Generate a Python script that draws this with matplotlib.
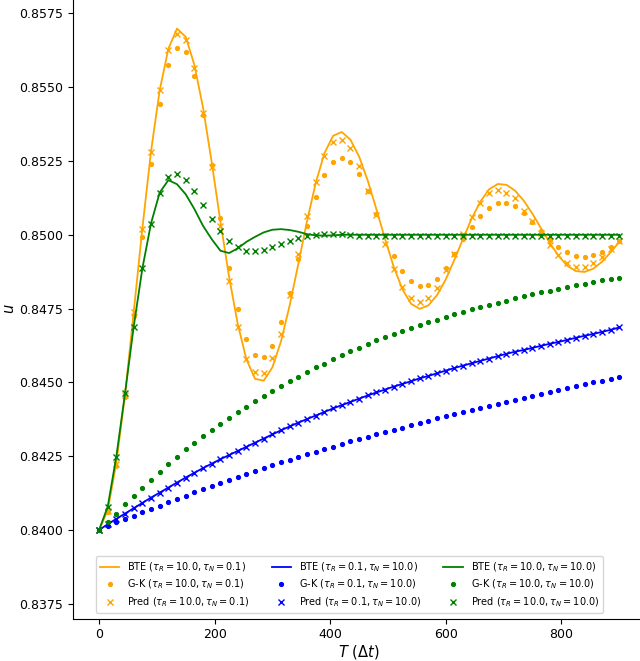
import matplotlib
matplotlib.use("Agg")
import matplotlib.pyplot as plt

# time steps (in units of dt)
time_steps = list(range(0, 901, 15))

# tau_R = 10.0, tau_N = 0.1
orange_bte = [
    0.84000, 0.84066, 0.84228, 0.84458, 0.84738, 0.85022, 0.85283, 0.85490, 0.85630, 0.85698,
    0.85670, 0.85575, 0.85430, 0.85245, 0.85045, 0.84858, 0.84698, 0.84578, 0.84512, 0.84506,
    0.84551, 0.84640, 0.84762, 0.84903, 0.85047, 0.85176, 0.85276, 0.85335, 0.85348, 0.85322,
    0.85265, 0.85183, 0.85086, 0.84985, 0.84891, 0.84815, 0.84766, 0.84749, 0.84761, 0.84796,
    0.84849, 0.84916, 0.84987, 0.85056, 0.85113, 0.85154, 0.85172, 0.85169, 0.85149, 0.85115,
    0.85071, 0.85021, 0.84972, 0.84929, 0.84895, 0.84877, 0.84874, 0.84885, 0.84908, 0.84940,
    0.84975,
]
orange_gk = [
    0.84000, 0.84062, 0.84218, 0.84450, 0.84725, 0.84991, 0.85241, 0.85443, 0.85576, 0.85633,
    0.85618, 0.85536, 0.85404, 0.85235, 0.85058, 0.84889, 0.84749, 0.84648, 0.84594, 0.84585,
    0.84625, 0.84704, 0.84802, 0.84918, 0.85030, 0.85128, 0.85204, 0.85248, 0.85261, 0.85245,
    0.85205, 0.85149, 0.85070, 0.85000, 0.84929, 0.84878, 0.84842, 0.84825, 0.84831, 0.84851,
    0.84889, 0.84935, 0.84985, 0.85025, 0.85063, 0.85090, 0.85106, 0.85106, 0.85096, 0.85073,
    0.85042, 0.85012, 0.84982, 0.84960, 0.84943, 0.84929, 0.84926, 0.84931, 0.84940, 0.84957,
    0.84980,
]
orange_pred = [
    0.84000, 0.84064, 0.84225, 0.84456, 0.84738, 0.85021, 0.85280, 0.85489, 0.85626, 0.85681,
    0.85658, 0.85563, 0.85413, 0.85231, 0.85029, 0.84845, 0.84689, 0.84580, 0.84535, 0.84533,
    0.84583, 0.84665, 0.84795, 0.84935, 0.85065, 0.85180, 0.85267, 0.85315, 0.85320, 0.85295,
    0.85233, 0.85149, 0.85066, 0.84969, 0.84884, 0.84822, 0.84785, 0.84771, 0.84785, 0.84820,
    0.84881, 0.84935, 0.85003, 0.85061, 0.85109, 0.85143, 0.85151, 0.85143, 0.85126, 0.85081,
    0.85045, 0.85005, 0.84965, 0.84932, 0.84906, 0.84892, 0.84890, 0.84903, 0.84925, 0.84953,
    0.84980,
]

# tau_R = 0.1, tau_N = 10.0
blue_bte = [
    0.84000, 0.84020, 0.84038, 0.84056, 0.84074, 0.84092, 0.84110, 0.84127, 0.84144, 0.84161,
    0.84178, 0.84194, 0.84210, 0.84225, 0.84240, 0.84254, 0.84268, 0.84282, 0.84296, 0.84310,
    0.84324, 0.84338, 0.84351, 0.84364, 0.84376, 0.84388, 0.84400, 0.84412, 0.84423, 0.84434,
    0.84445, 0.84456, 0.84466, 0.84476, 0.84486, 0.84495, 0.84504, 0.84514, 0.84522, 0.84531,
    0.84540, 0.84549, 0.84557, 0.84565, 0.84573, 0.84581, 0.84589, 0.84597, 0.84604, 0.84610,
    0.84617, 0.84624, 0.84631, 0.84637, 0.84644, 0.84651, 0.84658, 0.84664, 0.84671, 0.84678,
    0.84686,
]
blue_gk = [
    0.84000, 0.84014, 0.84026, 0.84039, 0.84048, 0.84060, 0.84071, 0.84083, 0.84094, 0.84106,
    0.84116, 0.84128, 0.84140, 0.84150, 0.84160, 0.84170, 0.84180, 0.84190, 0.84200, 0.84210,
    0.84219, 0.84229, 0.84238, 0.84247, 0.84256, 0.84265, 0.84274, 0.84283, 0.84291, 0.84300,
    0.84308, 0.84316, 0.84324, 0.84332, 0.84340, 0.84347, 0.84355, 0.84363, 0.84370, 0.84378,
    0.84385, 0.84392, 0.84399, 0.84406, 0.84413, 0.84420, 0.84427, 0.84434, 0.84441, 0.84448,
    0.84455, 0.84461, 0.84468, 0.84474, 0.84481, 0.84487, 0.84494, 0.84500, 0.84506, 0.84513,
    0.84519,
]
blue_pred = [
    0.84000, 0.84020, 0.84038, 0.84056, 0.84074, 0.84092, 0.84110, 0.84127, 0.84144, 0.84161,
    0.84178, 0.84194, 0.84210, 0.84225, 0.84240, 0.84254, 0.84268, 0.84282, 0.84296, 0.84310,
    0.84324, 0.84338, 0.84351, 0.84364, 0.84376, 0.84388, 0.84400, 0.84412, 0.84423, 0.84434,
    0.84445, 0.84456, 0.84466, 0.84476, 0.84486, 0.84495, 0.84504, 0.84514, 0.84522, 0.84531,
    0.84540, 0.84549, 0.84557, 0.84565, 0.84573, 0.84581, 0.84589, 0.84597, 0.84604, 0.84610,
    0.84617, 0.84624, 0.84631, 0.84637, 0.84644, 0.84651, 0.84658, 0.84664, 0.84671, 0.84678,
    0.84686,
]

# tau_R = 10.0, tau_N = 10.0
green_bte = [
    0.84000, 0.84079, 0.84250, 0.84463, 0.84689, 0.84886, 0.85039, 0.85143, 0.85185, 0.85171,
    0.85137, 0.85087, 0.85030, 0.84985, 0.84946, 0.84938, 0.84954, 0.84976, 0.84993, 0.85008,
    0.85017, 0.85019, 0.85016, 0.85010, 0.85002, 0.84998, 0.84997, 0.84998, 0.85000, 0.85000,
    0.85000, 0.85000, 0.85000, 0.85000, 0.85000, 0.85000, 0.85000, 0.85000, 0.85000, 0.85000,
    0.85000, 0.85000, 0.85000, 0.85000, 0.85000, 0.85000, 0.85000, 0.85000, 0.85000, 0.85000,
    0.85000, 0.85000, 0.85000, 0.85000, 0.85000, 0.85000, 0.85000, 0.85000, 0.85000, 0.85000,
    0.85000,
]
green_gk = [
    0.84000, 0.84026, 0.84056, 0.84087, 0.84116, 0.84144, 0.84171, 0.84198, 0.84224, 0.84248,
    0.84273, 0.84295, 0.84318, 0.84338, 0.84359, 0.84379, 0.84400, 0.84418, 0.84437, 0.84454,
    0.84472, 0.84489, 0.84506, 0.84520, 0.84535, 0.84551, 0.84564, 0.84578, 0.84592, 0.84606,
    0.84618, 0.84629, 0.84642, 0.84653, 0.84663, 0.84675, 0.84685, 0.84695, 0.84704, 0.84713,
    0.84722, 0.84731, 0.84740, 0.84748, 0.84756, 0.84763, 0.84770, 0.84777, 0.84785, 0.84791,
    0.84798, 0.84805, 0.84811, 0.84818, 0.84823, 0.84829, 0.84834, 0.84840, 0.84846, 0.84850,
    0.84855,
]
green_pred = [
    0.84000, 0.84079, 0.84248, 0.84463, 0.84687, 0.84886, 0.85038, 0.85142, 0.85197, 0.85207,
    0.85187, 0.85149, 0.85101, 0.85053, 0.85013, 0.84980, 0.84957, 0.84946, 0.84944, 0.84948,
    0.84957, 0.84968, 0.84980, 0.84989, 0.84995, 0.84998, 0.85001, 0.85001, 0.85001, 0.84998,
    0.84996, 0.84995, 0.84995, 0.84995, 0.84995, 0.84995, 0.84995, 0.84995, 0.84995, 0.84995,
    0.84995, 0.84995, 0.84995, 0.84995, 0.84995, 0.84995, 0.84995, 0.84995, 0.84995, 0.84995,
    0.84995, 0.84995, 0.84995, 0.84995, 0.84995, 0.84995, 0.84995, 0.84995, 0.84995, 0.84995,
    0.84995,
]

cases = [
    ("orange", r"$\tau_R = 10.0, \tau_N = 0.1$", orange_bte, orange_gk, orange_pred),
    ("blue", r"$\tau_R = 0.1, \tau_N = 10.0$", blue_bte, blue_gk, blue_pred),
    ("green", r"$\tau_R = 10.0, \tau_N = 10.0$", green_bte, green_gk, green_pred),
]

fig = plt.figure(figsize=(6.40, 6.61), dpi=100)
ax = fig.add_axes([0.1141, 0.0640, 0.894, 0.9383])

for color, tag, bte, gk, pred in cases:
    ax.plot(time_steps, bte, color=color, lw=1.3, label=f"BTE ({tag})")
    ax.plot(time_steps, gk, ls="none", marker=".", ms=5.5, color=color,
            label=f"G-K ({tag})")
    ax.plot(time_steps, pred, ls="none", marker="x", ms=5, mew=1.0, color=color,
            label=f"Pred ({tag})")

ax.set_xlim(-45, 945)
ax.set_ylim(0.8370, 0.8580)
ax.set_xticks([0, 200, 400, 600, 800])
ax.set_yticks([0.8375, 0.8400, 0.8425, 0.8450, 0.8475, 0.8500, 0.8525, 0.8550, 0.8575])
ax.yaxis.set_major_formatter(matplotlib.ticker.FormatStrFormatter("%.4f"))
ax.tick_params(labelsize=9)
ax.set_xlabel(r"$T\ (\Delta t)$", fontsize=10.5, labelpad=1)
ax.set_ylabel(r"$u$", fontsize=10.5, labelpad=2)

ax.legend(ncol=3, loc="lower left", bbox_to_anchor=(0.040, 0.0097),
          borderaxespad=0, fontsize=7.0, columnspacing=2.3, handlelength=2.0,
          labelspacing=0.4)

fig.savefig("out.png", dpi=100)
